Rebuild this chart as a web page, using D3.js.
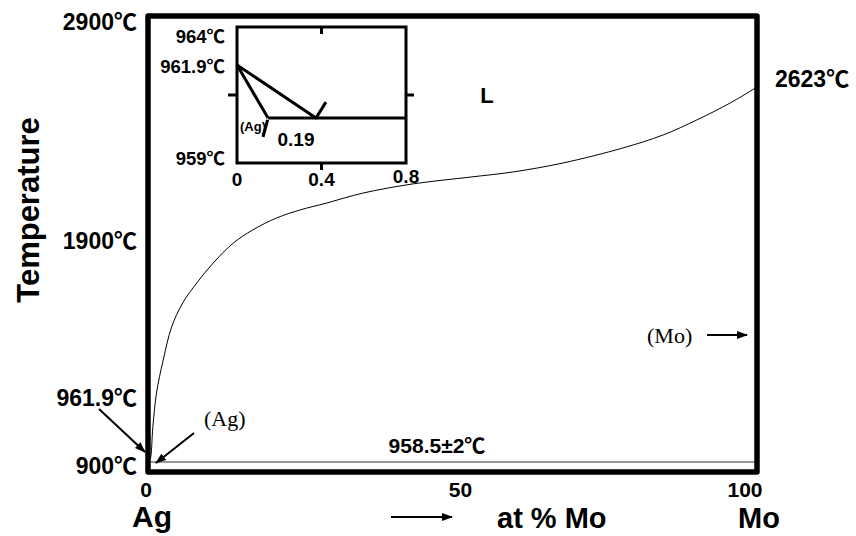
<!DOCTYPE html>
<html lang="en">
<head>
<meta charset="UTF-8">
<script src="https://cdnjs.cloudflare.com/ajax/libs/d3/7.8.5/d3.min.js"></script>
<title>Ag-Mo</title>
<style>
    body { margin: 0; background: #fff; }
    text { font-family: Arial, "Liberation Sans", "Noto Sans CJK SC", sans-serif; font-weight: bold; fill: #000; }
    text.serif { font-family: "Times New Roman", "Liberation Serif", serif; font-weight: normal; }
</style>
</head>
<body>
<script>
    // liquidus (at% Mo, deg C)
    var liquidusMo = [0, 0.3, 0.8, 1.4, 2.5, 3.9, 5.7, 8.0, 10.7, 14.0, 17.2, 21.1, 25.0, 29.3, 35.3, 43.5, 52.9, 59.9, 68.1, 78.0, 84.6, 90.1, 95.6, 100];
    var liquidusT = [961.9, 967, 1109, 1253, 1393, 1535, 1636, 1721, 1806, 1891, 1952, 2008, 2046, 2078, 2125, 2168, 2200, 2224, 2266, 2337, 2398, 2468, 2548, 2623];
    var eutecticT = 958.5;
    var yTicks = [2900, 1900, 900];
    var xTicks = [0, 50, 100];

    // inset: Ag-rich corner blown up
    var insetXTicks = [0, 0.4, 0.8];
    var insetYTicks = [964, 961.9, 959];
    var insetLiquidus = [[0, 961.9], [0.374, 960.23], [0.421, 960.73]];
    var insetSolidus = [[0, 961.9], [0.147, 960.23]];
    var insetEutectic = [[0.147, 960.23], [0.8, 960.23]];
    var insetSolvus = [[0.145, 960.17], [0.123, 959.63]];

    var width = 856, height = 536;
    var svg = d3.select("body").append("svg").attr("width", width).attr("height", height);

    var defs = svg.append("defs");
    defs.append("marker").attr("id", "arr")
        .attr("markerUnits", "userSpaceOnUse")
        .attr("markerWidth", 11).attr("markerHeight", 8)
        .attr("refX", 10).attr("refY", 4).attr("orient", "auto")
        .append("path").attr("d", "M0,0 L11,4 L0,8 z").attr("fill", "#000");

    var frame = {left: 148, right: 757, top: 16, bottom: 472};
    var x = d3.scaleLinear().domain([0, 100]).range([frame.left, frame.right]);
    // schematic axis, not linear in the original
    var y = d3.scaleLinear().domain([900, 958.5, 1900, 2623, 2900]).range([466, 462, 241, 87, 22]);

    // eutectic line
    svg.append("line")
        .attr("x1", x(0)).attr("x2", x(100))
        .attr("y1", y(eutecticT)).attr("y2", y(eutecticT))
        .attr("stroke", "#777").attr("stroke-width", 1.5);

    // liquidus
    var line = d3.line()
        .x(function(d) { return x(d[0]); })
        .y(function(d) { return y(d[1]); })
        .curve(d3.curveCatmullRom.alpha(0.5));
    svg.append("path")
        .datum(d3.zip(liquidusMo, liquidusT))
        .attr("d", line)
        .attr("fill", "none").attr("stroke", "#000").attr("stroke-width", 1);

    // frame
    svg.append("rect")
        .attr("x", frame.left).attr("y", frame.top)
        .attr("width", frame.right - frame.left).attr("height", frame.bottom - frame.top)
        .attr("fill", "none").attr("stroke", "#000").attr("stroke-width", 5.5)
        .attr("stroke-linejoin", "round");

    // tick labels
    svg.selectAll(".ytick").data(yTicks).enter().append("text")
        .attr("x", 137).attr("y", function(d) { return y(d); })
        .attr("dominant-baseline", "central").attr("text-anchor", "end")
        .style("font-size", "23px")
        .text(function(d) { return d + "℃"; });
    var xTickDx = [-2, 8, -12];
    svg.selectAll(".xtick").data(xTicks).enter().append("text")
        .attr("x", function(d, i) { return x(d) + xTickDx[i]; }).attr("y", 489)
        .attr("dominant-baseline", "central").attr("text-anchor", "middle")
        .style("font-size", "21px")
        .text(function(d) { return d; });

    // annotations
    svg.append("text").attr("x", 137).attr("y", 398).attr("dominant-baseline", "central")
        .attr("text-anchor", "end").style("font-size", "23px").text("961.9℃");
    svg.append("text").attr("x", 775).attr("y", y(2623) - 8).attr("dominant-baseline", "central")
        .style("font-size", "23px").text("2623℃");
    svg.append("text").attr("x", 437).attr("y", 445).attr("dominant-baseline", "central")
        .attr("text-anchor", "middle").style("font-size", "21px").text(eutecticT + "±2℃");
    svg.append("text").attr("x", 487).attr("y", 95).attr("dominant-baseline", "central")
        .attr("text-anchor", "middle").style("font-size", "22px").text("L");
    svg.append("text").attr("class", "serif").attr("x", 204).attr("y", 426)
        .style("font-size", "22px").text("(Ag)");
    svg.append("text").attr("class", "serif").attr("x", 647).attr("y", 343)
        .style("font-size", "22px").text("(Mo)");

    var arrows = [
        [99, 409, 145, 452],
        [194, 433, 156, 463],
        [707, 335, 747, 335],
        [391, 517, 452, 517]
    ];
    svg.selectAll(".arrow").data(arrows).enter().append("line")
        .attr("x1", function(d) { return d[0]; }).attr("y1", function(d) { return d[1]; })
        .attr("x2", function(d) { return d[2]; }).attr("y2", function(d) { return d[3]; })
        .attr("stroke", "#000").attr("stroke-width", 2)
        .attr("marker-end", "url(#arr)");

    // axis titles
    svg.append("text").attr("x", 152).attr("y", 527).attr("text-anchor", "middle")
        .style("font-size", "30px").text("Ag");
    svg.append("text").attr("x", 759).attr("y", 528).attr("text-anchor", "middle")
        .style("font-size", "29px").text("Mo");
    svg.append("text").attr("x", 497).attr("y", 528)
        .style("font-size", "29px").text("at % Mo");
    svg.append("text")
        .attr("transform", "translate(39,210) rotate(-90)")
        .attr("text-anchor", "middle").style("font-size", "31px").text("Temperature");

    // ---- inset ----
    var inset = {left: 237, right: 406, top: 27, bottom: 163};
    var ix = d3.scaleLinear().domain([0, 0.8]).range([inset.left, inset.right]);
    var iy = d3.scaleLinear().domain([959, 961.9, 964]).range([157, 65, 35]);
    var ig = svg.append("g");

    ig.append("rect")
        .attr("x", inset.left).attr("y", inset.top)
        .attr("width", inset.right - inset.left).attr("height", inset.bottom - inset.top)
        .attr("fill", "#fff").attr("stroke", "#000").attr("stroke-width", 3);

    var mid = (inset.top + inset.bottom) / 2;
    var ticks = [
        [ix(0.4), inset.bottom, ix(0.4), inset.bottom + 7],
        [ix(0.4), inset.top, ix(0.4), inset.top + 7],
        [inset.left - 9, mid, inset.left, mid],
        [inset.right, mid, inset.right + 8, mid]
    ];
    ig.selectAll(".itick").data(ticks).enter().append("line")
        .attr("x1", function(d) { return d[0]; }).attr("y1", function(d) { return d[1]; })
        .attr("x2", function(d) { return d[2]; }).attr("y2", function(d) { return d[3]; })
        .attr("stroke", "#000").attr("stroke-width", 3);

    var iline = d3.line()
        .x(function(d) { return ix(d[0]); })
        .y(function(d) { return iy(d[1]); });
    [insetLiquidus, insetSolidus, insetEutectic, insetSolvus].forEach(function(pts) {
        ig.append("path").datum(pts).attr("d", iline)
            .attr("fill", "none").attr("stroke", "#000").attr("stroke-width", 3)
            .attr("stroke-linejoin", "round");
    });

    ig.selectAll(".ixt").data(insetXTicks).enter().append("text")
        .attr("x", function(d) { return ix(d); }).attr("y", function(d, i) { return i == 2 ? 176 : 179; })
        .attr("dominant-baseline", "central").attr("text-anchor", "middle")
        .style("font-size", "19px")
        .text(function(d) { return d; });
    ig.selectAll(".iyt").data(insetYTicks).enter().append("text")
        .attr("x", 225).attr("y", function(d) { return iy(d) + 1; })
        .attr("dominant-baseline", "central").attr("text-anchor", "end")
        .style("font-size", "18.5px")
        .text(function(d) { return d + "℃"; });
    ig.append("text").attr("x", 296).attr("y", 139).attr("dominant-baseline", "central")
        .attr("text-anchor", "middle").style("font-size", "19px").text("0.19");
    ig.append("text").attr("x", 253).attr("y", 126).attr("dominant-baseline", "central")
        .attr("text-anchor", "middle").style("font-size", "13px").text("(Ag)");
</script>
</body>
</html>
